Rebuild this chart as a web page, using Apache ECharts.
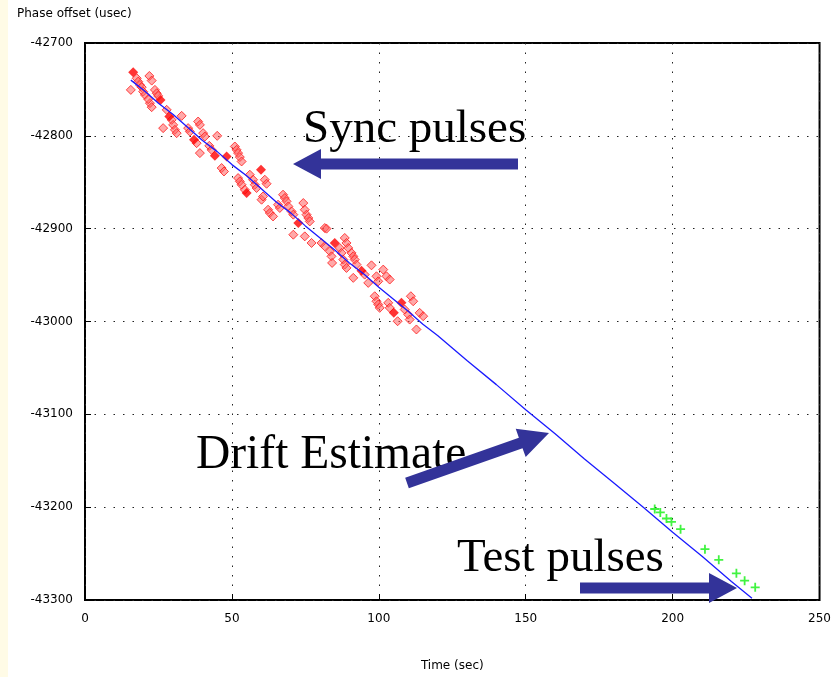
<!DOCTYPE html>
<html><head><meta charset="utf-8">
<script src="https://cdn.jsdelivr.net/npm/echarts@6/dist/echarts.min.js"></script>
<style>html,body{margin:0;padding:0;background:#fff}#c{width:834px;height:677px}</style>
</head><body><div id="c"></div>
<script>
const xTicks = [0, 50, 100, 150, 200, 250];
const yTicks = [-42700, -42800, -42900, -43000, -43100, -43200, -43300];
// Sync pulses (red diamonds) [time sec, phase offset usec]
const syncPulses = [
[15.6,-42750.5],[17.6,-42738],[18.1,-42741.6],[18.7,-42745.2],[19.3,-42747.6],[19.8,-42752.4],[20.4,-42755.9],
[21.9,-42735.5],[22.7,-42740.5],[23.8,-42750.5],[24.4,-42754.1],[24.9,-42757],[22.1,-42764.8],[22.7,-42769.1],
[21.5,-42760.5],[27.8,-42772],[29.5,-42782.8],[30.0,-42788.2],[30.6,-42793.5],[31.2,-42797.1],[26.6,-42791.7],
[32.9,-42778.5],[35.1,-42791.7],[35.7,-42795.4],[38.0,-42807.9],[38.5,-42784.6],[39.1,-42788.2],[40.2,-42797.1],
[40.8,-42800.8],[39.1,-42818.6],[42.3,-42810.8],[43.1,-42815.1],[45.0,-42800],[46.5,-42834.7],[47.3,-42838.4],
[51.0,-42811.5],[51.6,-42815.1],[52.1,-42818.6],[52.7,-42822.9],[53.3,-42827.6],[52.1,-42845.5],[52.7,-42849.1],
[53.3,-42852.7],[54.4,-42858.1],[56.1,-42841.9],[57.2,-42847.3],[57.8,-42852.7],[58.4,-42856.2],[61.2,-42847.3],
[61.8,-42851.6],[60.1,-42868.8],[60.6,-42865.3],[62.3,-42879.6],[62.9,-42883.1],[64.0,-42886.8],[65.7,-42874.2],
[66.3,-42877.7],[67.4,-42863.4],[68.0,-42867],[68.6,-42870.6],[69.2,-42876],[70.3,-42881.4],[70.9,-42884.9],
[74.3,-42872.4],[74.8,-42879.6],[75.4,-42884.9],[76.0,-42888.5],[76.5,-42892.2],[70.9,-42906.5],[74.8,-42908.3],
[77.1,-42915.4],[81.6,-42899.3],[80.5,-42915.4],[81.6,-42919],[82.2,-42900],[83.3,-42924.4],[83.9,-42929.8],
[84.1,-42936.9],[86.7,-42920.8],[87.3,-42926.1],[88.4,-42910],[89.0,-42915.4],[89.6,-42920.8],[90.7,-42926.1],
[91.3,-42929.8],[91.8,-42933.3],[92.4,-42938.7],[87.9,-42933.3],[88.4,-42938.7],[89.0,-42942.3],[91.3,-42953],
[95.2,-42949.5],[96.4,-42958.4],[97.5,-42939.5],[99.2,-42951.3],[99.8,-42956.7],[101.5,-42944.1],[102.6,-42951.3],
[103.7,-42954.8],[98.6,-42972.8],[99.2,-42978.2],[99.8,-42981.7],[100.3,-42985.3],[103.2,-42979.9],[103.7,-42985.3],
[108.8,-42987.1],[110.0,-42992.5],[110.5,-42997.9],[106.4,-42999.7],[110.9,-42972.8],[111.7,-42978.2],
[113.9,-42990.7],[115.1,-42994.3],[112.8,-43008.6]
];
// overlapping sync pulses drawn as solid diamonds
const syncPulsesSolid = [
[16.4,-42731.5],[25.7,-42761.3],[28.7,-42779.2],[37.1,-42804.3],[44.2,-42821.5],[48.2,-42822.3],[55.0,-42861.6],
[59.9,-42836.6],[72.6,-42893.9],[85.0,-42915.4],[94.1,-42945.2],[105.1,-42990.7],[107.7,-42979.9]
];
// Test pulses (green crosses)
const testPulses = [
[193.9,-43202],[195.8,-43205.7],[197.9,-43212.2],[199.6,-43215.8],[202.7,-43223.7],
[211.0,-43245.2],[215.7,-43256.7],[221.7,-43271.3],[224.5,-43279.2],[228.1,-43286.3]
];
// Drift estimate (blue line)
const driftEstimate = [
[15.6,-42740],[20,-42751],[25,-42765],[30,-42777],[35,-42791],[40,-42805],[45,-42817],[50,-42831],[55,-42843],
[60,-42857],[65,-42871],[70,-42883],[75,-42897],[80,-42910],[85,-42923],[90,-42937],[95,-42949],[100,-42963],
[105,-42976],[110,-42989],[115,-43003],[120,-43015],[130,-43042],[140,-43068],[150,-43095],[160,-43121],
[170,-43148],[180,-43174],[190,-43200],[200,-43227],[210,-43253],[220,-43280],[227,-43298]
];

const chart = echarts.init(document.getElementById('c'));
const lblFont = {fontFamily:'DejaVu Sans', fontSize:12, color:'#000'};
const arrowColor = '#333399';
function arrow(x1,y1,x2,y2,shaft,headW,headL){
  const dx=x2-x1, dy=y2-y1, L=Math.hypot(dx,dy), ux=dx/L, uy=dy/L, nx=-uy, ny=ux;
  const bx=x2-ux*headL, by=y2-uy*headL;
  return {type:'polygon', shape:{points:[
    [x1+nx*shaft/2,y1+ny*shaft/2],[bx+nx*shaft/2,by+ny*shaft/2],[bx+nx*headW/2,by+ny*headW/2],[x2,y2],
    [bx-nx*headW/2,by-ny*headW/2],[bx-nx*shaft/2,by-ny*shaft/2],[x1-nx*shaft/2,y1-ny*shaft/2]]},
    style:{fill:arrowColor}, z:100};
}
const plain = v => String(v);
chart.setOption({
  backgroundColor:'#ffffff',
  animation:false,
  grid:{left:85, right:13, top:43, bottom:76, show:true, borderColor:'#000', borderWidth:2, backgroundColor:'transparent'},
  xAxis:{type:'value', min:0, max:250, interval:50,
    name:'Time (sec)', nameLocation:'middle', nameGap:60, nameTextStyle:lblFont,
    axisLine:{show:false}, axisTick:{show:true, inside:true, length:6, lineStyle:{color:'#000', width:1}},
    axisLabel:Object.assign({margin:13, formatter:plain}, lblFont),
    splitLine:{show:true, lineStyle:{color:'#222', width:1, type:[1.5,8]}}},
  yAxis:{type:'value', min:-43300, max:-42700, interval:100,
    axisLine:{show:false}, axisTick:{show:true, inside:true, length:6, lineStyle:{color:'#000', width:1}},
    axisLabel:Object.assign({margin:12, formatter:plain}, lblFont),
    splitLine:{show:true, lineStyle:{color:'#222', width:1, type:[1.5,8]}}},
  series:[
    {type:'scatter', data:syncPulses, symbol:'diamond', symbolSize:9,
      itemStyle:{color:'rgba(255,90,90,0.65)', borderColor:'#ff1a1a', borderWidth:1}, z:2},
    {type:'scatter', data:syncPulsesSolid, symbol:'diamond', symbolSize:10,
      itemStyle:{color:'#ff0000'}, z:3},
    {type:'line', data:driftEstimate, showSymbol:false, symbol:'none', lineStyle:{color:'#1a1aff', width:1.3}, z:4},
    {type:'scatter', data:testPulses, symbol:'path://M4,0H6V4H10V6H6V10H4V6H0V4H4Z', symbolSize:9,
      itemStyle:{color:'#11f011'}, z:5}
  ],
  graphic:[
    {type:'rect', shape:{x:0,y:0,width:8,height:677}, style:{fill:'#fffbe6'}, z:-1},
    {type:'text', left:17, top:8, style:{text:'Phase offset (usec)', font:'12px "DejaVu Sans"', fill:'#000'}},
    {type:'text', x:303, y:106, style:{text:'Sync pulses', font:'47px "Liberation Serif"', fill:'#000'}, z:90},
    {type:'text', x:196, y:432, style:{text:'Drift Estimate', font:'47.5px "Liberation Serif"', fill:'#000'}, z:90},
    {type:'text', x:457, y:535, style:{text:'Test pulses', font:'47px "Liberation Serif"', fill:'#000'}, z:90},
    arrow(518,164,293,164,11,30,28),
    arrow(407,483,549,433,11,30,30),
    arrow(580,588,737,588,11,30,28)
  ]
});
</script></body></html>
